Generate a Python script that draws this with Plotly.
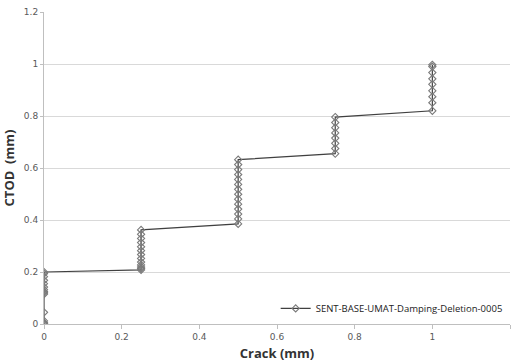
import plotly.graph_objects as go

# Crack extension (mm) and crack-tip opening displacement (mm) per increment
crack = [0, 0, 0, 0, 0, 0, 0, 0, 0, 0, 0, 0, 0, 0, 0,
         0.25, 0.25, 0.25, 0.25, 0.25, 0.25, 0.25, 0.25, 0.25, 0.25, 0.25, 0.25, 0.25,
         0.5, 0.5, 0.5, 0.5, 0.5, 0.5, 0.5, 0.5, 0.5, 0.5, 0.5, 0.5, 0.5, 0.5,
         0.75, 0.75, 0.75, 0.75, 0.75, 0.75, 0.75, 0.75,
         1.0, 1.0, 1.0, 1.0, 1.0, 1.0, 1.0, 1.0, 1.0]
ctod = [0, 0.002, 0.005, 0.012, 0.045, 0.115, 0.12, 0.125, 0.132, 0.142, 0.155, 0.168, 0.182, 0.194, 0.2,
        0.208, 0.213, 0.219, 0.227, 0.238, 0.252, 0.267, 0.282, 0.297, 0.313, 0.329, 0.345, 0.362,
        0.385, 0.404, 0.423, 0.442, 0.461, 0.480, 0.499, 0.518, 0.537, 0.556, 0.575, 0.594, 0.613, 0.632,
        0.655, 0.675, 0.695, 0.715, 0.735, 0.755, 0.775, 0.796,
        0.820, 0.851, 0.874, 0.897, 0.922, 0.943, 0.967, 0.99, 0.997]

x_ticks = [0, 0.2, 0.4, 0.6, 0.8, 1, 1.2]
y_ticks = [0, 0.2, 0.4, 0.6, 0.8, 1, 1.2]

fig = go.Figure()
fig.add_trace(go.Scatter(
    x=crack, y=ctod, mode="lines+markers",
    name="SENT-BASE-UMAT-Damping-Deletion-0005",
    line=dict(color="#404040", width=1.2),
    marker=dict(symbol="diamond-open", size=5.5, color="#7a7a7a",
                line=dict(width=1.1, color="#7a7a7a")),
))

tick_font = dict(family="DejaVu Sans", size=9, color="#595959")
title_font = dict(family="Open Sans", size=13, color="#333333")

fig.update_layout(
    width=514, height=363,
    margin=dict(l=44, r=4, t=12, b=39, autoexpand=False),
    paper_bgcolor="white", plot_bgcolor="white",
    showlegend=True,
    legend=dict(x=0.995, y=0.05, xanchor="right", yanchor="middle",
                bgcolor="rgba(255,255,255,0)",
                font=dict(family="Open Sans", size=9.5, color="#222222")),
    xaxis=dict(
        range=[0, 1.2], tickvals=x_ticks, ticktext=[f"{v:g}" for v in x_ticks],
        automargin=False,
        showgrid=False, zeroline=False, showline=True, linecolor="#bfbfbf",
        ticks="outside", ticklen=4, tickcolor="#bfbfbf", tickfont=tick_font,
        title=dict(text="<b>Crack (mm)</b>", font=title_font, standoff=8),
    ),
    yaxis=dict(
        range=[0, 1.2], tickvals=y_ticks, ticktext=[f"{v:g}" for v in y_ticks],
        automargin=False,
        showgrid=True, gridcolor="#d9d9d9", gridwidth=1,
        zeroline=False, showline=True, linecolor="#bfbfbf",
        ticks="outside", ticklen=3, tickcolor="#bfbfbf", tickfont=tick_font,
        title=dict(text="<b>CTOD  (mm)</b>", font=title_font, standoff=6),
    ),
)

fig.write_html("out.html")
